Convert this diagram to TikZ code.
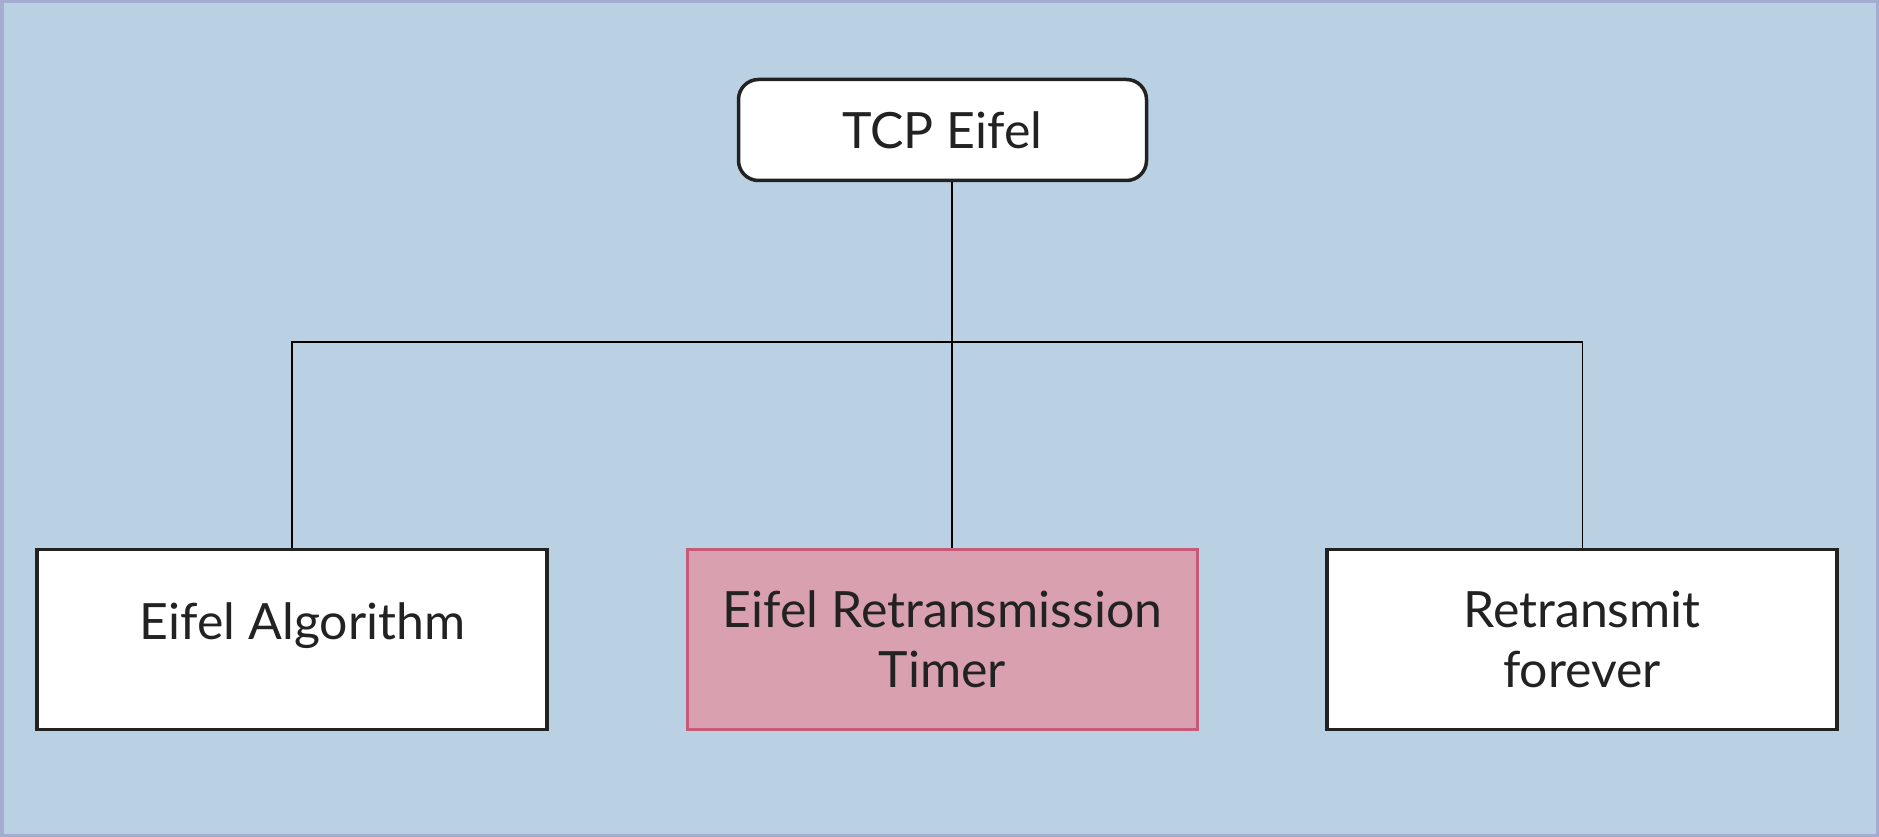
\documentclass[tikz,border=0pt]{standalone}
\usepackage{fontspec}
\setmainfont{Lato}
\definecolor{bgblue}{HTML}{BAD0E3}
\definecolor{frame}{HTML}{A3ADCF}
\definecolor{pinkfill}{HTML}{D9A1AF}
\definecolor{pinkline}{HTML}{C75A7B}
\definecolor{ink}{HTML}{222222}
\begin{document}
\begin{tikzpicture}[x=1pt,y=-1pt,
  txt/.style={font=\fontsize{50}{60}\selectfont, text=ink, align=center},
  boxw/.style={draw=ink, line width=3.5pt, fill=white, minimum width=510pt, minimum height=180pt, inner sep=0pt, txt},
  boxp/.style={boxw, draw=pinkline, fill=pinkfill},
  rootbox/.style={boxw, rounded corners=20pt, minimum width=408pt, minimum height=101pt},
  conn/.style={draw=black, line width=1.8pt}]
  \useasboundingbox (0,0) rectangle (1879,837);
  \fill[bgblue] (0,0) rectangle (1879,837);
  \draw[frame, line width=3.5pt] (1.75,1.75) rectangle (1877.25,835.25);

  \node[rootbox] (top) at (942.5,130) {TCP Eifel};
  \node[boxw, label={[txt, xshift=10.5pt, yshift=13.5pt]center:Eifel Algorithm}] (a) at (292,639.5) {};
  \node[boxp] (b) at (942.5,639.5) {Eifel Retransmission\\Timer};
  \node[boxw] (c) at (1582,639.5) {Retransmit\\forever};

  \coordinate (jl) at (292,342);
  \coordinate (jm) at (952,342);
  \coordinate (jr) at (1582.5,342);

  \draw[conn] (top.south -| jm) -- (b.north -| jm);
  \draw[conn] (a.north -| jl) -- (jl) -- (jr) -- (c.north -| jr);
\end{tikzpicture}
\end{document}
